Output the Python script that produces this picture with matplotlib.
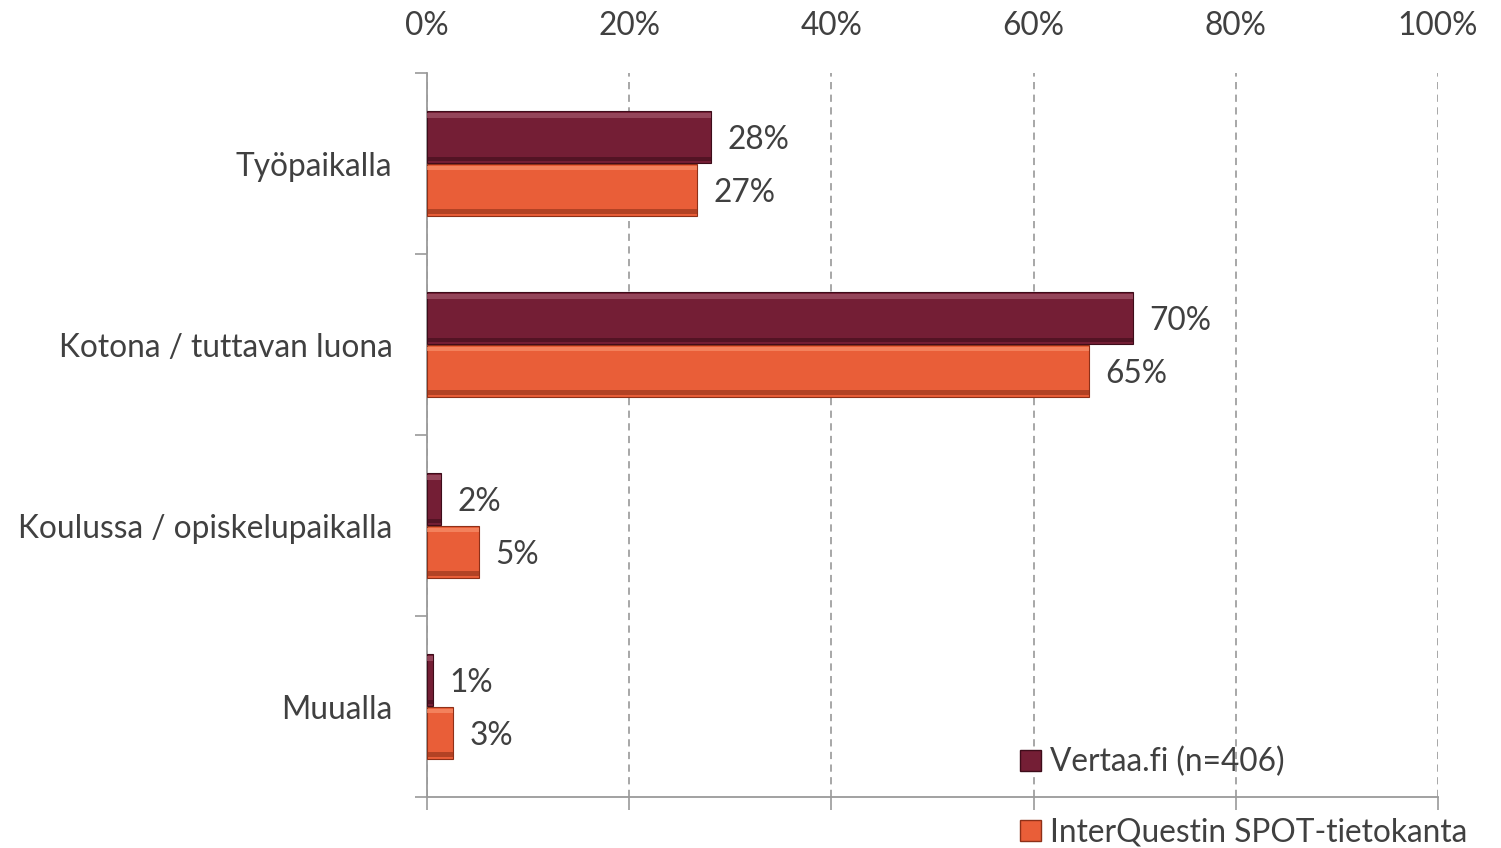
import matplotlib.pyplot as plt
from matplotlib.patches import Patch
import numpy as np

plt.rcParams['font.family'] = ['Lato', 'DejaVu Sans']

categories = ["Työpaikalla", "Kotona / tuttavan luona", "Koulussa / opiskelupaikalla", "Muualla"]
series_names = ["Vertaa.fi (n=406)", "InterQuestin SPOT-tietokanta"]
vertaa = [28.1, 69.8, 1.4, 0.6]
spot = [26.7, 65.5, 5.1, 2.6]
vertaa_labels = ["28%", "70%", "2%", "1%"]
spot_labels = ["27%", "65%", "5%", "3%"]
xticks = [0, 20, 40, 60, 80, 100]

dark = "#741E35"
orange = "#E95E38"
text_col = "#404040"
axis_col = "#9A9A9A"
fs = 22.8

fig = plt.figure(figsize=(15.01, 8.48), dpi=100)
ax = fig.add_axes([0.2845, 0.0601, 0.6735, 0.8538])

y = np.arange(len(categories))
h = 0.285
off = 0.145


def bevel_bar(ypos, vals, color, light, shade):
    ax.barh(ypos, vals, height=h, color=color, edgecolor=shade, linewidth=0.8, zorder=3)
    # simple bevel: light strip on top, shadow strip at the bottom
    ax.barh(ypos - h / 2 + 0.022, vals, height=0.025, color=light, alpha=0.7, zorder=4)
    ax.barh(ypos + h / 2 - 0.022, vals, height=0.025, color=shade, alpha=0.6, zorder=4)


bevel_bar(y - off, vertaa, dark, "#A3566A", "#3E0C1A")
bevel_bar(y + off, spot, orange, "#F8906C", "#8E3018")

for i in range(len(categories)):
    ax.text(vertaa[i] + 1.6, y[i] - off, vertaa_labels[i], va="center_baseline", ha="left",
            fontsize=fs, color=text_col)
    ax.text(spot[i] + 1.6, y[i] + off, spot_labels[i], va="center_baseline", ha="left",
            fontsize=fs, color=text_col)

ax.set_xlim(0, 100)
ax.set_ylim(len(categories) - 0.5, -0.5)

ax.set_xticks(xticks)
ax.set_xticklabels([f"{t}%" for t in xticks], fontsize=fs, color=text_col)
ax.tick_params(axis="x", which="major", top=False, labeltop=True, bottom=True, labelbottom=False,
               length=9, width=1.2, color=axis_col, pad=14)
ax.xaxis.grid(True, linestyle=(0, (4, 3)), color="#A0A0A0", linewidth=1.3, zorder=0)

ax.set_yticks(np.arange(len(categories) + 1) - 0.5)
ax.set_yticklabels([])
ax.set_yticks(y, minor=True)
ax.set_yticklabels(categories, minor=True, fontsize=fs, color=text_col)
ax.tick_params(axis="y", which="major", length=9, width=1.2, color=axis_col)
ax.tick_params(axis="y", which="minor", length=0, pad=25)

for s in ["top", "right"]:
    ax.spines[s].set_visible(False)
for s in ["left", "bottom"]:
    ax.spines[s].set_color(axis_col)
    ax.spines[s].set_linewidth(1.3)

handles = [Patch(facecolor=dark, edgecolor="#3E0C1A"), Patch(facecolor=orange, edgecolor="#8E3018")]
leg = fig.legend(handles, series_names, loc="upper left", bbox_to_anchor=(0.6795, 0.119),
                 frameon=False, fontsize=fs, handlelength=0.65, handleheight=0.65,
                 handletextpad=0.3, labelspacing=1.26, borderpad=0, borderaxespad=0)
for t in leg.get_texts():
    t.set_color(text_col)

fig.savefig("out.png", dpi=100)
